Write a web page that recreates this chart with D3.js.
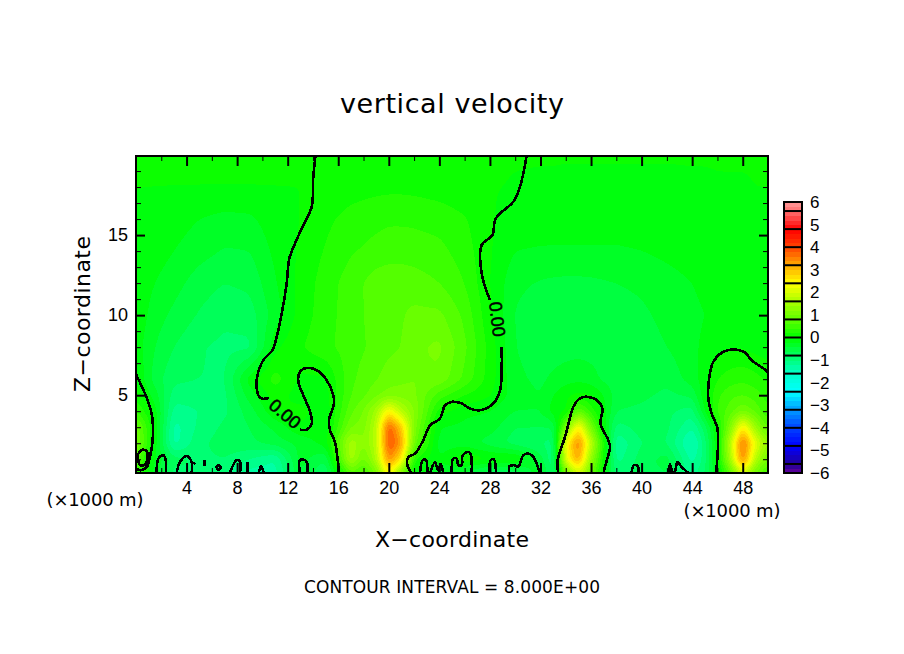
<!DOCTYPE html>
<html>
<head>
<meta charset="utf-8">
<title>vertical velocity</title>
<script src="https://cdn.jsdelivr.net/npm/d3@7"></script>
<style>
  body { margin: 0; background: #fff; }
  svg { display: block; }
  text { font-family: "Liberation Sans", sans-serif; fill: #000; }
</style>
</head>
<body>
<svg id="chart" width="904" height="654"></svg>
<script>
var xs = [0,1.5,3,5,7,9,11,13,15,17,18,19,20,21,22,24,26,28,30,32,33,34,35,36,37,38,40,42,44,45,46,47,48,49,50];
var zs = [19.94,18,16,14,12,10,8,6,5,4,3,2,1,0.14];

var w199 = [.02,.02,.02,.02,.02,.02,.02,.02,.02,.03,.04,.04,.04,.04,.04,.03,.02,.02,.01,.01,.01,.01,.01,.01,.01,.01,.01,.01,.01,.01,.01,.01,.01,.01,.01];
var w18 = [0,0,0,0,0,0,0,0,.03,.1,.12,.14,.15,.15,.14,.1,.05,.01,-.01,-.02,-.02,-.03,-.03,-.03,-.03,-.03,-.03,-.03,-.02,-.02,-.01,-.01,-.01,0,0];
var w16 = [0,-.04,-.1,-.2,-.26,-.24,-.08,0,.15,.28,.32,.35,.37,.37,.36,.32,.22,.02,-.08,-.1,-.11,-.12,-.12,-.12,-.12,-.12,-.11,-.1,-.07,-.06,-.05,-.04,-.03,-.02,-.01];
var w14 = [-.02,-.1,-.2,-.32,-.42,-.4,-.15,.03,.22,.38,.42,.46,.5,.5,.5,.46,.3,.02,-.2,-.22,-.22,-.22,-.22,-.22,-.22,-.22,-.2,-.15,-.1,-.08,-.05,-.04,-.03,-.02,-.02];
var w12 = [-.05,-.2,-.32,-.5,-.6,-.55,-.22,.06,.3,.5,.6,.72,.75,.75,.7,.6,.4,0,-.35,-.42,-.44,-.45,-.45,-.44,-.42,-.4,-.36,-.28,-.2,-.14,-.1,-.07,-.05,-.03,-.02];
var w10 = [-.05,-.3,-.45,-.62,-.75,-.7,-.3,.08,.32,.5,.6,.68,.72,.78,.85,.85,.55,.04,-.42,-.52,-.55,-.58,-.6,-.58,-.56,-.5,-.44,-.34,-.26,-.2,-.15,-.1,-.08,-.05,-.03];
var w8 = [-.1,-.4,-.6,-.78,-.85,-.85,-.05,.18,.35,.5,.58,.68,.75,.8,.95,1.05,.65,.12,-.4,-.5,-.52,-.5,-.48,-.5,-.52,-.55,-.5,-.4,-.25,-.15,-.05,-.01,-.02,-.08,-.12];
var w6 = [.02,-.5,-.75,-.8,-.82,-.1,.3,-.05,-.03,.55,.68,.78,.9,.95,1,.95,.55,.1,-.35,-.45,-.35,-.28,-.25,-.3,-.45,-.5,-.5,-.55,-.3,-.08,.2,.3,.35,.28,.15];
var w5 = [.15,-.3,-.9,-.9,-.85,-.3,.1,-.1,-.1,.6,.75,.95,1.1,1.1,1.05,.5,.2,.02,-.3,-.4,-.2,-.05,.05,.02,-.2,-.5,-.55,-.65,-.55,-.05,.35,.55,.6,.5,.3];
var w4 = [.4,-.1,-1.1,-1,-.85,-.5,-.02,.08,-.15,.75,1,1.5,2.5,1.7,1.2,.1,-.15,-.2,-.4,-.4,-.1,-.05,.8,.3,-.1,-.6,-.65,-.75,-.9,-.2,.45,.7,1,.75,.4];
var w3 = [1,-.05,-1.3,-.95,-.75,-.6,-.35,-.02,-.15,1,1.1,1.7,3.9,2.9,1.1,-.2,-.25,-.3,-.6,-.6,-.6,1,2.6,1,-.1,-.9,-.7,-.75,-1.2,-.7,.05,1.1,2.6,1.4,.7];
var w2 = [1.1,-.1,-1.3,-.85,-.7,-.65,-.5,-.35,-.1,1.6,1.2,1.7,4,3.3,.9,-.3,-.3,-.5,-.7,-.8,-.9,2.3,3.6,1.8,.2,-1.2,-.8,-.8,-1.5,-.9,-.03,1.7,3.8,2.2,1.3];
var w1 = [.8,-.2,-.7,-.85,-.8,-1,-1.2,-.3,-.6,1.6,.9,1.6,3.5,2.6,.2,-.2,.2,.05,.05,-.5,-1,2.2,3.3,1.3,.1,-1.1,-.7,-.5,-1.3,-.9,-.05,1.5,3.6,1.7,.9];
var w0 = [.4,-.3,-.9,-.8,-1,-1.3,-1.3,-.4,-.8,.7,.5,1,2.5,1,-.1,-.3,-.5,-.8,-.8,-.2,-1,.9,2,.9,-.1,-.9,-.7,-.6,-1.1,-.8,-.2,.7,2,.9,.5];
var wRows = [w199,w18,w16,w14,w12,w10,w8,w6,w5,w4,w3,w2,w1,w0];

// zero contour pieces, [x km, z km]
var zeroLeft = [[14.2,19.94],[14.03,18.65],[13.9,16.77],[13.24,15.63],[12.7,14.69],[12.13,13.54],[11.92,11.98],[11.53,10.1],[11.13,8.64],[10.8,7.81],[10.07,7.19],[9.55,5.94],[9.68,5],[9.94,4.79],[10.55,4.83]];
var zeroHook = [[12.97,2.85],[13.5,2.85],[13.9,3.23],[13.77,3.96],[13.24,5],[12.84,5.83],[12.97,6.46],[13.5,6.7],[14.3,6.56],[15.08,5.94],[15.61,5],[15.66,4.48],[15.27,3.44],[15.35,2.81],[15.74,2.08],[15.93,1.14],[16.04,.14]];
var zeroRightTop = [[30.9,19.94],[30.38,18.02],[29.85,17.08],[28.8,16.35],[28.4,15.94],[28.19,15],[27.35,14.38],[27.35,12.6],[28,10.94]];
var zeroRightLow = [[28.93,8.02],[28.93,6.56],[28.8,5.31],[28.27,4.48],[27.2,4.06],[26.4,4.17],[25.77,4.48],[24.97,4.58],[24.45,4.37],[24.05,3.54],[23.26,3.12],[22.73,2.19],[22.07,1.35],[21.55,1.14],[21.46,.63],[21.8,.14]];
var zeroEdge = [[0,6.3],[.71,5.1],[1.24,3.85],[1.32,2.19],[1.1,1.14],[.85,.52],[.32,.31],[0,.44]];
var zeroEdgeLoop = [[.18,1.4],[.6,1.6],[.9,1.4],[.8,.75],[.55,.6],[.25,.7],[.18,1.4]];
var zeroCore2 = [[33.4,.14],[33.36,.94],[33.94,2.39],[34.6,4.27],[35,4.73],[35.5,4.9],[36.45,4.69],[36.9,4.17],[36.75,3.23],[37.37,2.19],[37.5,1.77],[37.1,.52],[37,.14]];
var zeroCore3 = [[50,6.4],[49.9,6.52],[48.7,7.19],[48.2,7.65],[47.25,7.85],[46.33,7.65],[45.67,7.08],[45.4,6.35],[45.27,4.9],[45.54,3.85],[46,2.92],[45.9,.14]];
var zeroBumps = [
  [[1.64,.14],[1.77,1.04],[2.16,1.25],[2.35,.94],[2.37,.14]],
  [[3.22,.14],[3.48,.83],[4,1.19],[4.4,.83],[4.4,.14]],
  [[4.55,.7],[4.65,.8]],
  [[5.4,.6],[5.4,.95]],
  [[6.35,.45],[6.5,.65],[6.7,.45],[6.5,.35],[6.35,.45]],
  [[7.43,.14],[7.97,.95],[8.23,.85],[8.23,.14]],
  [[8.8,.14],[8.8,.85]],
  [[9.7,.14],[9.9,.56],[10.1,.14]],
  [[12.97,.14],[12.97,.94],[13.37,.94],[13.55,.75],[13.55,.14]],
  [[22.47,.14],[22.68,.94],[22.94,.94],[23.04,.14]],
  [[23.26,.14],[23.65,.8],[23.9,.3],[24.1,.7],[24.3,.14]],
  [[24.97,.14],[24.97,.42],[25.1,1.04],[25.37,1.04],[25.5,.63],[25.77,.63],[25.85,1.25],[26.3,1.46],[26.5,1.25],[26.56,.14]],
  [[27.95,.14],[28.06,.94],[28.32,.98],[28.48,.14]],
  [[29.53,.14],[29.53,.56],[29.85,.63],[30.25,.56],[30.64,1.25],[31.04,1.35],[31.43,1.14],[31.96,.14]],
  [[39.2,.14],[39.4,.63],[39.7,.56],[39.75,.14]],
  [[42.1,.14],[42.25,.7],[42.4,.14]],
  [[42.5,.14],[42.66,.3],[42.85,.83],[43.17,.52],[43.7,.14]]
];
var zeroLines = [zeroLeft, zeroHook, zeroRightTop, zeroRightLow, zeroEdge, zeroEdgeLoop, zeroCore2, zeroCore3].concat(zeroBumps);

var labelX = [11.8, 28.6];
var labelZ = [3.85, 9.75];
var labelAngle = [40, 83];
var labelText = "0.00";

var xMajor = [4,8,12,16,20,24,28,32,36,40,44,48];
var xMinor = [2,6,10,14,18,22,26,30,34,38,42,46,50];
var zMajor = [5,10,15];
var zMinor = [1,2,3,4,6,7,8,9,11,12,13,14,16,17,18,19];
var barTicks = [6,5,4,3,2,1,0,-1,-2,-3,-4,-5,-6];
var barLevels = [5.6,4.8,4,3.2,2.4,1.6,.8,0,-.8,-1.6,-2.4,-3.2,-4,-4.8,-5.6];

var colorStops = [-6,-5.6,-4.8,-4,-3.2,-2.4,-1.6,-.8,0,.8,1.6,2.4,3.2,4,4.8,5.6,6];
var colorValues = ["#660099","#220099","#0000ff","#0040ff","#0099ff","#00ffff","#00ffcc","#00ff66","#00ff00","#60ff00","#aaff00","#ffff00","#ffaa00","#ff4400","#ff0000","#ff7070","#ff9999"];

var svg = d3.select("#chart");
var left = 136, right = 768, top_ = 156, bottom = 473;

var xScale = d3.scaleLinear().domain([0, 50]).range([left, right]);
var zScale = d3.scaleLinear().domain([0.14, 19.94]).range([bottom, top_]);
var color = d3.scaleLinear().domain(colorStops).range(colorValues);

// resample the picture-read table onto a fine grid for d3.contours
var nx = 316, nz = 159;
var xIndex = d3.scaleLinear().domain(xs).range(d3.range(xs.length)).clamp(true);
var zIndex = d3.scaleLinear().domain(zs).range(d3.range(zs.length)).clamp(true);
var values = new Float64Array(nx * nz);
for (var j = 0; j < nz; j++) {
  var zv = zScale.invert(top_ + (j + 0.5) * (bottom - top_) / nz);
  var fz = zIndex(zv), j0 = Math.min(Math.floor(fz), zs.length - 2), tz = fz - j0;
  for (var i = 0; i < nx; i++) {
    var xv = xScale.invert(left + (i + 0.5) * (right - left) / nx);
    var fx = xIndex(xv), i0 = Math.min(Math.floor(fx), xs.length - 2), tx = fx - i0;
    var a = wRows[j0][i0] * (1 - tx) + wRows[j0][i0 + 1] * tx;
    var b = wRows[j0 + 1][i0] * (1 - tx) + wRows[j0 + 1][i0 + 1] * tx;
    values[j * nx + i] = a * (1 - tz) + b * tz;
  }
}
d3.blur2({data: values, width: nx, height: nz}, 1);

var thresholds = d3.range(-6, 6, 0.2);
var contours = d3.contours().size([nx, nz]).thresholds(thresholds)(values);

svg.append("g")
  .attr("transform", "translate(" + left + "," + top_ + ") scale(" + (right - left) / nx + "," + (bottom - top_) / nz + ")")
  .selectAll("path")
  .data(contours)
  .enter().append("path")
  .attr("d", d3.geoPath())
  .attr("fill", function(d) { return color(d.value + 0.1); })
  .attr("shape-rendering", "crispEdges");

// zero line
var line = d3.line()
  .x(function(d) { return xScale(d[0]); })
  .y(function(d) { return zScale(d[1]); })
  .curve(d3.curveCatmullRom);

svg.append("g").selectAll("path")
  .data(zeroLines)
  .enter().append("path")
  .attr("d", line)
  .attr("fill", "none")
  .attr("stroke", "#000")
  .attr("stroke-width", 2.6)
  .attr("shape-rendering", "crispEdges");

svg.append("g").selectAll("text")
  .data(labelX)
  .enter().append("text")
  .attr("transform", function(d, i) {
    return "translate(" + xScale(d) + "," + zScale(labelZ[i]) + ") rotate(" + labelAngle[i] + ")";
  })
  .attr("text-anchor", "middle")
  .attr("dy", "0.36em")
  .style("font-size", "18px")
  .style("stroke", "#000")
  .style("stroke-width", "0.5px")
  .text(labelText);

// ticks on all four sides, pointing in
function drawAxis(axis, tx, ty, values_, size, width, labelled) {
  var g = svg.append("g")
    .attr("transform", "translate(" + tx + "," + ty + ")")
    .call(axis.tickValues(values_).tickSize(-size).tickPadding(labelled ? 8 : 0));
  g.select(".domain").remove();
  g.selectAll("line").attr("stroke", "#000").attr("stroke-width", width);
  if (labelled) {
    g.selectAll("text").style("font-size", "18px").style("font-family", '"Liberation Sans", sans-serif');
  } else {
    g.selectAll("text").remove();
  }
}
drawAxis(d3.axisBottom(xScale), 0, bottom, xMajor, 10, 2, true);
drawAxis(d3.axisBottom(xScale), 0, bottom, xMinor, 5, 1, false);
drawAxis(d3.axisTop(xScale), 0, top_, xMajor, 10, 2, false);
drawAxis(d3.axisTop(xScale), 0, top_, xMinor, 5, 1, false);
drawAxis(d3.axisLeft(zScale), left, 0, zMajor, 9, 2, true);
drawAxis(d3.axisLeft(zScale), left, 0, zMinor, 5, 1, false);
drawAxis(d3.axisRight(zScale), right, 0, zMajor, 9, 2, false);
drawAxis(d3.axisRight(zScale), right, 0, zMinor, 5, 1, false);

svg.append("rect")
  .attr("x", left).attr("y", top_)
  .attr("width", right - left).attr("height", bottom - top_)
  .attr("fill", "none").attr("stroke", "#000").attr("stroke-width", 2);

// colour bar
var barScale = d3.scaleLinear().domain([-6, 6]).range([473, 202]);
var barLeft = 784, barRight = 802;
var barSteps = d3.range(-6, 6, 0.2);

svg.append("g").selectAll("rect")
  .data(barSteps)
  .enter().append("rect")
  .attr("x", barLeft)
  .attr("y", function(d) { return barScale(d + 0.2); })
  .attr("width", barRight - barLeft)
  .attr("height", function(d) { return barScale(d) - barScale(d + 0.2) + 0.5; })
  .attr("fill", function(d) { return color(d + 0.1); })
  .attr("shape-rendering", "crispEdges");

svg.append("g").selectAll("line")
  .data(barLevels)
  .enter().append("line")
  .attr("x1", barLeft).attr("x2", barRight)
  .attr("y1", barScale).attr("y2", barScale)
  .attr("stroke", "#000").attr("stroke-width", 2);

svg.append("rect")
  .attr("x", barLeft).attr("y", barScale(6))
  .attr("width", barRight - barLeft).attr("height", barScale(-6) - barScale(6))
  .attr("fill", "none").attr("stroke", "#000").attr("stroke-width", 2);

var barAxis = svg.append("g")
  .attr("transform", "translate(" + barRight + ",0)")
  .call(d3.axisRight(barScale).tickValues(barTicks).tickSize(0).tickPadding(8).tickFormat(d3.format("d")));
barAxis.select(".domain").remove();
barAxis.selectAll("text").style("font-size", "17px").style("font-family", '"Liberation Sans", sans-serif');

// titles
function label(x, y, str, size, length, rotate) {
  svg.append("text")
    .attr("transform", "translate(" + x + "," + y + ")" + (rotate ? " rotate(" + rotate + ")" : ""))
    .attr("text-anchor", "middle")
    .attr("textLength", length)
    .attr("lengthAdjust", "spacing")
    .style("font-family", '"DejaVu Sans", sans-serif')
    .style("font-size", size + "px")
    .text(str);
}
label(452, 113, "vertical velocity", 27, 224);
label(452, 547, "X\u2212coordinate", 22, 154);
label(90, 314, "Z\u2212coordinate", 22, 156, -90);
label(452, 593, "CONTOUR INTERVAL = 8.000E+00", 17, 296);
label(95, 506, "(\u00d71000 m)", 18, 97);
label(732, 517, "(\u00d71000 m)", 18, 97);
</script>
</body>
</html>
